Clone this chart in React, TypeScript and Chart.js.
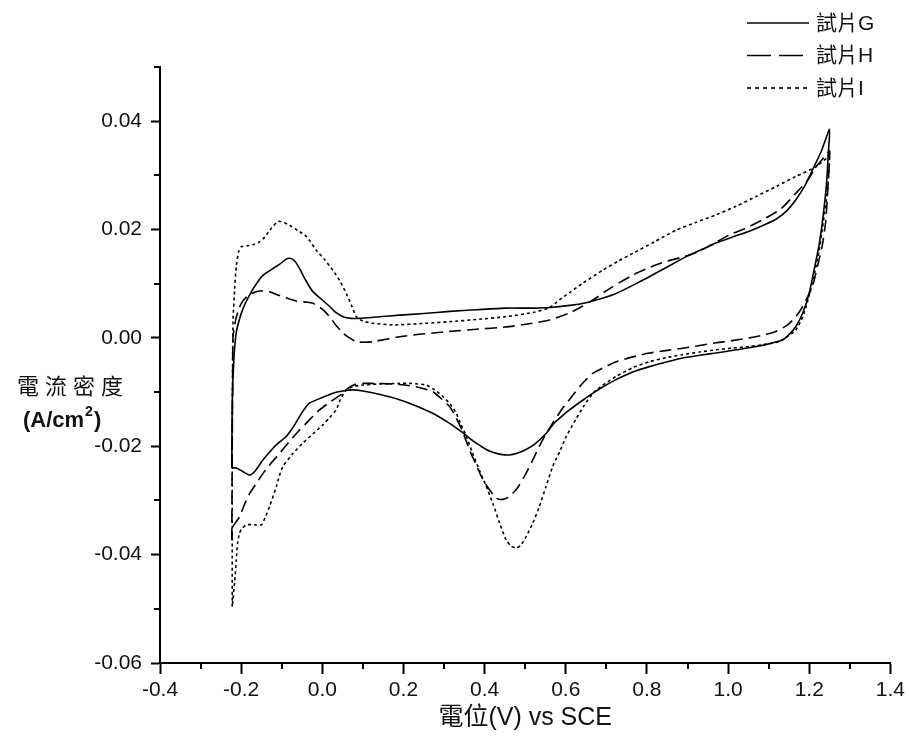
import { useEffect, useRef } from 'react';
import { Chart, registerables } from 'chart.js';

Chart.register(...registerables);

// ---------- data ----------
const seriesNames = ['試片G', '試片H', '試片I'];

const gPotential = [
  -0.223, -0.222, -0.218, -0.212, -0.204, -0.195, -0.187, -0.171, -0.155, -0.142, -0.122, -0.105, -0.09, -0.08,
  -0.068, -0.056, -0.04, -0.023, 0.0, 0.018, 0.035, 0.051, 0.07, 0.092, 0.14, 0.19, 0.25, 0.314, 0.38, 0.45,
  0.52, 0.56, 0.61, 0.65, 0.69, 0.724, 0.765, 0.806, 0.85, 0.897, 0.935, 0.97, 1.01, 1.052, 1.09, 1.118, 1.145,
  1.167, 1.19, 1.208, 1.23, 1.25,
  1.247, 1.242, 1.233, 1.225, 1.217, 1.2, 1.184, 1.167, 1.15, 1.134, 1.1, 1.069, 1.02, 0.97, 0.93, 0.888, 0.85,
  0.806, 0.765, 0.724, 0.69, 0.667, 0.64, 0.609, 0.585, 0.568, 0.552, 0.525, 0.502, 0.48, 0.461, 0.44, 0.42,
  0.404, 0.375, 0.346, 0.31, 0.272, 0.23, 0.19, 0.14, 0.1, 0.075, 0.05, 0.026, 0.0, -0.031, -0.045, -0.056,
  -0.072, -0.089, -0.105, -0.122, -0.146, -0.165, -0.179, -0.195, -0.212, -0.223,
];
const gCurrent = [
  -0.024, -0.012, -0.004, 0.001, 0.0035, 0.0055, 0.0068, 0.009, 0.0108, 0.0118, 0.0128, 0.0136, 0.0145, 0.0147,
  0.0142, 0.0128, 0.0105, 0.0085, 0.007, 0.0058, 0.0046, 0.0039, 0.0036, 0.0036, 0.0039, 0.0042, 0.0045, 0.0049,
  0.0052, 0.0055, 0.0055, 0.0056, 0.006, 0.0065, 0.0073, 0.0082, 0.0097, 0.0113, 0.0131, 0.015, 0.0163, 0.0175,
  0.0186, 0.0197, 0.0209, 0.0219, 0.0235, 0.0255, 0.0282, 0.031, 0.0345, 0.0385,
  0.034, 0.028, 0.0218, 0.0175, 0.0144, 0.0083, 0.0046, 0.0021, 0.0006, -0.0004, -0.0011, -0.0016, -0.0022,
  -0.0028, -0.0032, -0.0037, -0.0044, -0.0053, -0.0063, -0.0077, -0.0091, -0.0102, -0.0116, -0.0133, -0.0148,
  -0.016, -0.0176, -0.0195, -0.0206, -0.0213, -0.0216, -0.0215, -0.0211, -0.0206, -0.0192, -0.0175, -0.0156,
  -0.0139, -0.0125, -0.0114, -0.0104, -0.0098, -0.0096, -0.0098, -0.0102, -0.011, -0.012, -0.0132, -0.0145,
  -0.0165, -0.0182, -0.0192, -0.0204, -0.0225, -0.0245, -0.0253, -0.0247, -0.024, -0.024,
];

const hPotential = [
  -0.223, -0.222, -0.221, -0.22, -0.213, -0.205, -0.196, -0.183, -0.171, -0.158, -0.146, -0.13, -0.113, -0.09,
  -0.064, -0.04, -0.023, 0.0, 0.018, 0.035, 0.051, 0.067, 0.084, 0.105, 0.125, 0.16, 0.19, 0.23, 0.272, 0.314,
  0.38, 0.45, 0.51, 0.56, 0.609, 0.64, 0.667, 0.71, 0.765, 0.81, 0.847, 0.905, 0.95, 1.003, 1.045, 1.085, 1.13,
  1.167, 1.195, 1.217, 1.235, 1.25,
  1.246, 1.241, 1.232, 1.224, 1.208, 1.195, 1.184, 1.167, 1.145, 1.118, 1.085, 1.053, 1.01, 0.97, 0.93, 0.888,
  0.85, 0.806, 0.765, 0.724, 0.69, 0.667, 0.64, 0.613, 0.59, 0.568, 0.543, 0.522, 0.502, 0.48, 0.461, 0.445,
  0.429, 0.412, 0.396, 0.38, 0.363, 0.346, 0.33, 0.314, 0.29, 0.272, 0.231, 0.19, 0.14, 0.1, 0.084, 0.065,
  0.051, 0.02, -0.007, -0.03, -0.056, -0.08, -0.105, -0.125, -0.146, -0.162, -0.179, -0.192, -0.204, -0.213,
  -0.22, -0.223,
];
const hCurrent = [
  -0.0373, -0.02, -0.008, 0.0002, 0.0035, 0.0055, 0.0068, 0.0078, 0.0083, 0.0086, 0.0087, 0.0085, 0.008, 0.0074,
  0.0068, 0.0066, 0.0064, 0.0053, 0.0039, 0.0022, 0.0009, 0.0, -0.0007, -0.0008, -0.0007, -0.0002, 0.0002,
  0.0006, 0.0009, 0.0012, 0.0016, 0.002, 0.0026, 0.0033, 0.0046, 0.0058, 0.007, 0.0092, 0.0116, 0.0131, 0.0141,
  0.0153, 0.0168, 0.019, 0.0203, 0.0218, 0.0238, 0.0267, 0.029, 0.0316, 0.0332, 0.0345,
  0.028, 0.0218, 0.017, 0.0144, 0.0095, 0.0074, 0.0058, 0.0039, 0.0023, 0.0012, 0.0005, 0.0, -0.0005, -0.0009,
  -0.0014, -0.0019, -0.0023, -0.0028, -0.0035, -0.0044, -0.0056, -0.0065, -0.0085, -0.011, -0.0132, -0.0157,
  -0.0188, -0.022, -0.025, -0.0278, -0.0293, -0.0298, -0.0296, -0.028, -0.0262, -0.0236, -0.0207, -0.0173,
  -0.0148, -0.0127, -0.011, -0.0099, -0.009, -0.0086, -0.0084, -0.0084, -0.0085, -0.0092, -0.0102, -0.0118,
  -0.0133, -0.015, -0.017, -0.019, -0.0213, -0.023, -0.025, -0.0268, -0.0287, -0.0308, -0.033, -0.034, -0.0348,
  -0.0373,
];

const iPotential = [
  -0.222, -0.222, -0.222, -0.221, -0.22, -0.216, -0.212, -0.206, -0.2, -0.186, -0.171, -0.155, -0.142, -0.125,
  -0.109, -0.095, -0.081, -0.06, -0.039, -0.015, 0.005, 0.026, 0.045, 0.059, 0.072, 0.084, 0.1, 0.125, 0.174,
  0.256, 0.314, 0.38, 0.45, 0.52, 0.56, 0.584, 0.612, 0.642, 0.691, 0.73, 0.765, 0.82, 0.872, 0.92, 0.97, 1.02,
  1.069, 1.12, 1.167, 1.217, 1.245, 1.25,
  1.246, 1.233, 1.224, 1.21, 1.195, 1.184, 1.167, 1.145, 1.126, 1.09, 1.053, 1.01, 0.97, 0.93, 0.888, 0.85,
  0.806, 0.765, 0.724, 0.69, 0.667, 0.645, 0.625, 0.601, 0.585, 0.568, 0.551, 0.535, 0.518, 0.502, 0.49, 0.478,
  0.465, 0.453, 0.437, 0.42, 0.403, 0.387, 0.37, 0.355, 0.342, 0.33, 0.315, 0.297, 0.277, 0.256, 0.22, 0.19,
  0.14, 0.1, 0.075, 0.059, 0.045, 0.034, 0.018, 0.002, -0.023, -0.048, -0.072, -0.097, -0.106, -0.113, -0.13,
  -0.14, -0.15, -0.165, -0.187, -0.198, -0.204, -0.209, -0.212, -0.216, -0.222,
];
const iCurrent = [
  -0.0496, -0.035, -0.02, -0.005, 0.0033, 0.009, 0.0132, 0.016, 0.0168, 0.017, 0.0172, 0.0177, 0.0186, 0.0203,
  0.0215, 0.0213, 0.0208, 0.0198, 0.0187, 0.0162, 0.0145, 0.0125, 0.0103, 0.0082, 0.006, 0.0039, 0.0031, 0.0027,
  0.0024, 0.0027, 0.003, 0.0034, 0.0039, 0.0047, 0.0056, 0.007, 0.0085, 0.0101, 0.0125, 0.0142, 0.0156, 0.0178,
  0.0199, 0.0213, 0.0227, 0.0243, 0.0261, 0.028, 0.0298, 0.0316, 0.0334, 0.0345,
  0.028, 0.0205, 0.016, 0.011, 0.0065, 0.0039, 0.0015, 0.0002, -0.0007, -0.0012, -0.0016, -0.0019, -0.0022,
  -0.0026, -0.0031, -0.0036, -0.0044, -0.0055, -0.0071, -0.0088, -0.0102, -0.0125, -0.015, -0.0182, -0.021,
  -0.0237, -0.0275, -0.0311, -0.0343, -0.0367, -0.0382, -0.0388, -0.0384, -0.0373, -0.0342, -0.0305, -0.0272,
  -0.0244, -0.0212, -0.0182, -0.016, -0.0139, -0.0122, -0.0108, -0.0096, -0.0087, -0.0084, -0.0084, -0.0085,
  -0.0087, -0.009, -0.0096, -0.0113, -0.0133, -0.0147, -0.016, -0.0177, -0.0194, -0.0213, -0.0237, -0.0255,
  -0.0274, -0.0311, -0.033, -0.0345, -0.0345, -0.0345, -0.0352, -0.036, -0.038, -0.041, -0.045, -0.0496,
];

const xMinorTicks = [-0.3, -0.1, 0.1, 0.3, 0.5, 0.7, 0.9, 1.1, 1.3];
const yMinorTicks = [-0.05, -0.03, -0.01, 0.01, 0.03, 0.05];

const xAxisTitle = '電位(V) vs SCE';
const yAxisTitle = '電流密度';
const yAxisUnit = ['(A/cm', '2', ')'];

// ---------- styles ----------
const LATIN = '"Liberation Sans", Arial, "Noto Sans CJK TC", sans-serif';
const lineDashes = [[], [12, 6], [3, 3]];
const legendDashes = [[], [24, 8], [4, 4]];

const toPoints = (xs: number[], ys: number[]) => xs.map((x, i) => ({ x, y: ys[i] }));
const fmt = (v: number, d: number) => (Math.abs(v) < 1e-9 ? 0 : v).toFixed(d);

const decorPlugin = {
  id: 'decor',
  afterDraw(chart: any) {
    const { ctx, chartArea, scales } = chart;
    const xs = scales.x;
    const ys = scales.y;
    ctx.save();
    // minor ticks
    ctx.strokeStyle = '#000';
    ctx.lineWidth = 2;
    ctx.setLineDash([]);
    ctx.beginPath();
    xMinorTicks.forEach((v) => {
      const p = Math.round(xs.getPixelForValue(v));
      ctx.moveTo(p, chartArea.bottom);
      ctx.lineTo(p, chartArea.bottom + 6);
    });
    yMinorTicks.forEach((v) => {
      const p = Math.round(ys.getPixelForValue(v));
      ctx.moveTo(chartArea.left - 6, p);
      ctx.lineTo(chartArea.left, p);
    });
    ctx.stroke();

    ctx.fillStyle = '#111';
    ctx.textBaseline = 'middle';
    // x title
    ctx.font = `25px ${LATIN}`;
    ctx.textAlign = 'center';
    ctx.fillText(xAxisTitle, (chartArea.left + chartArea.right) / 2, 718);

    // y title
    ctx.textAlign = 'left';
    ctx.font = `22px ${LATIN}`;
    (ctx as any).letterSpacing = '6px';
    ctx.fillText(yAxisTitle, 17, 388);
    (ctx as any).letterSpacing = '0px';
    ctx.font = `bold 22px ${LATIN}`;
    let x = 23;
    const y = 421;
    ctx.fillText(yAxisUnit[0], x, y);
    x += ctx.measureText(yAxisUnit[0]).width;
    ctx.font = `bold 14px ${LATIN}`;
    ctx.fillText(yAxisUnit[1], x + 1, y - 9);
    x += ctx.measureText(yAxisUnit[1]).width + 2;
    ctx.font = `bold 22px ${LATIN}`;
    ctx.fillText(yAxisUnit[2], x, y);

    // legend
    ctx.font = `21px ${LATIN}`;
    chart.data.datasets.forEach((ds: any, i: number) => {
      const ly = 23 + i * 32.5;
      ctx.setLineDash(legendDashes[i]);
      ctx.lineWidth = 1.6;
      ctx.beginPath();
      ctx.moveTo(747, ly);
      ctx.lineTo(809, ly);
      ctx.stroke();
      ctx.setLineDash([]);
      ctx.fillText(ds.label, 816, ly + 1);
    });
    ctx.restore();
  },
};

export default function App() {
  const ref = useRef<HTMLCanvasElement>(null);
  useEffect(() => {
    if (!ref.current) return;
    const series = [
      toPoints(gPotential, gCurrent),
      toPoints(hPotential, hCurrent),
      toPoints(iPotential, iCurrent),
    ];
    const chart = new Chart(ref.current, {
      type: 'scatter',
      data: {
        datasets: series.map((pts, i) => ({
          label: seriesNames[i],
          data: pts,
          showLine: true,
          borderColor: '#000',
          backgroundColor: '#000',
          borderWidth: 1.6,
          borderDash: lineDashes[i],
          pointRadius: 0,
          pointHoverRadius: 0,
          tension: 0.2,
          fill: false,
        })),
      },
      options: {
        animation: false,
        responsive: false,
        layout: { padding: { left: 0, top: 67, right: 18, bottom: 0 } },
        plugins: { legend: { display: false }, tooltip: { enabled: false } },
        scales: {
          x: {
            type: 'linear',
            min: -0.4,
            max: 1.4,
            afterFit: (s: any) => {
              s.height = 88;
            },
            ticks: {
              stepSize: 0.2,
              autoSkip: false,
              maxRotation: 0,
              padding: 4,
              color: '#111',
              font: { family: LATIN, size: 21 },
              callback: (v: any) => fmt(Number(v), 1),
            },
            grid: {
              drawOnChartArea: false,
              drawTicks: true,
              tickLength: 11,
              tickWidth: 2,
              tickColor: '#000',
            },
            border: { display: true, color: '#000', width: 2 },
          },
          y: {
            type: 'linear',
            min: -0.06,
            max: 0.05,
            afterFit: (s: any) => {
              s.width = 160;
            },
            ticks: {
              stepSize: 0.02,
              autoSkip: false,
              padding: 9,
              color: '#111',
              font: { family: LATIN, size: 21 },
              callback: (v: any) => (Number(v) > 0.045 ? null : fmt(Number(v), 2)),
            },
            grid: {
              drawOnChartArea: false,
              drawTicks: true,
              tickLength: 9,
              tickWidth: 2,
              tickColor: '#000',
            },
            border: { display: true, color: '#000', width: 2 },
          },
        },
      },
      plugins: [decorPlugin],
    });
    return () => chart.destroy();
  }, []);
  return (
    <div style={{ position: 'fixed', left: 0, top: 0, width: 909, height: 751, background: '#fff' }}>
      <canvas ref={ref} width={909} height={751} style={{ display: 'block' }} />
    </div>
  );
}
